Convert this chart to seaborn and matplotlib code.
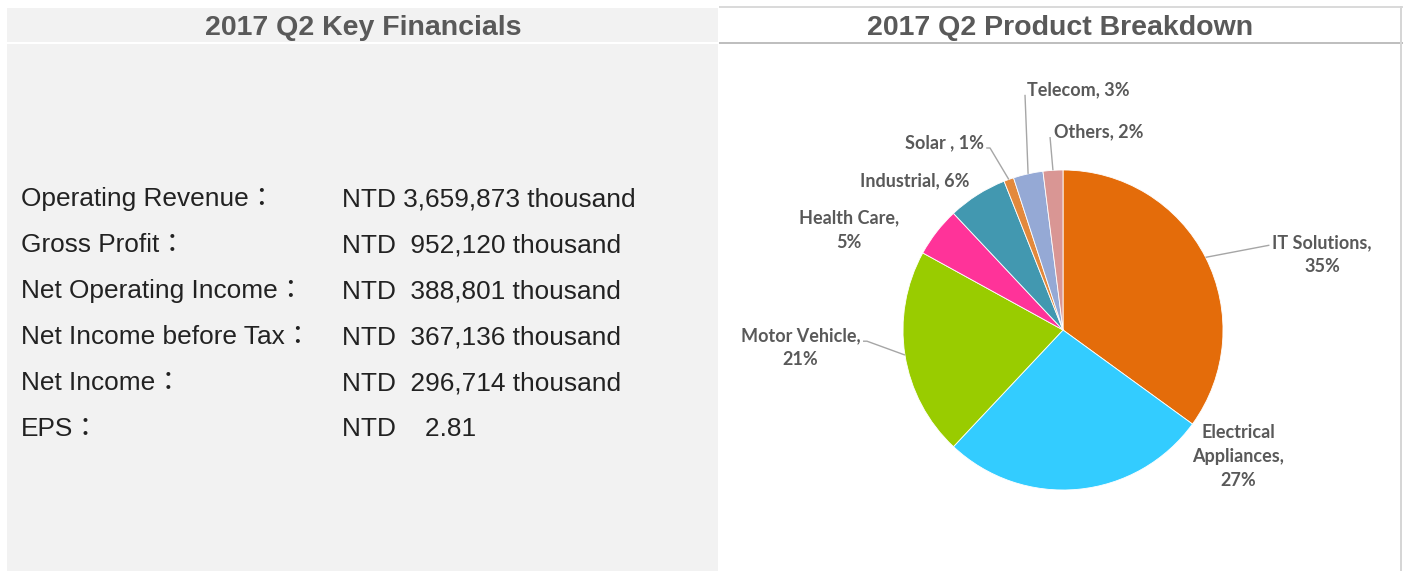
import matplotlib
matplotlib.use("Agg")
import numpy as np
import matplotlib.pyplot as plt
import seaborn as sns
from matplotlib.patches import Rectangle

# --- data -------------------------------------------------------------
fin_items = ["Operating Revenue：", "Gross Profit：", "Net Operating Income：",
             "Net Income before Tax：", "Net Income：", "EPS："]
fin_values = ["NTD 3,659,873 thousand", "NTD  952,120 thousand",
              "NTD  388,801 thousand", "NTD  367,136 thousand",
              "NTD  296,714 thousand", "NTD    2.81"]

# product mix, clockwise from 12 o'clock
products = ["IT Solutions", "Electrical Appliances", "Motor Vehicle", "Health Care",
            "Industrial", "Solar ", "Telecom", "Others"]
shares = [35, 27, 21, 5, 6, 1, 3, 2]
pie_colors = ["#E46C0A", "#33CCFF", "#99CC00", "#FF3399",
              "#4298B0", "#E3893C", "#95A9D5", "#D99694"]

# --- layout (pixels / pie radius units) -------------------------------
W, H = 1405, 571
PIE_C = (1063, 330)
PIE_R = 160

# label text position, alignment, line break style, leader elbow points
label_layout = [
    dict(xy=(1.62, 0.47), ha="center", wrap="name_br", elbow=[(1.29, 0.53)]),
    dict(xy=(1.095, -0.79), ha="center", wrap="words_br", elbow=None),
    dict(xy=(-1.64, -0.11), ha="center", wrap="name_br", elbow=[(-1.225, -0.07), (-1.25, -0.07)]),
    dict(xy=(-1.34, 0.625), ha="center", wrap="name_br", elbow=None),
    dict(xy=(-0.925, 0.93), ha="center", wrap="inline", elbow=None),
    dict(xy=(-0.74, 1.17), ha="center", wrap="inline", elbow=[(-0.456, 1.1375), (-0.48, 1.1375)]),
    dict(xy=(-0.225, 1.50), ha="left", wrap="inline", elbow=[(-0.2375, 1.47)]),
    dict(xy=(-0.056, 1.2375), ha="left", wrap="inline", elbow=[(-0.081, 1.206)]),
]

sns.set_theme(style="white")
plt.rcParams["font.family"] = ["Liberation Sans", "Noto Sans CJK TC", "DejaVu Sans"]

fig = plt.figure(figsize=(W / 100, H / 100), dpi=100)
fig.patch.set_facecolor("white")

# background canvas in pixel coordinates
bg = fig.add_axes([0, 0, 1, 1])
bg.set_xlim(0, W)
bg.set_ylim(H, 0)
bg.set_axis_off()

# left panel
bg.add_patch(Rectangle((7, 8), 711, H - 8, facecolor="#F2F2F2", edgecolor="none"))
bg.add_patch(Rectangle((7, 41.5), 711, 2.5, facecolor="white", edgecolor="none"))
# right panel frame
bg.add_patch(Rectangle((719, 6), 684, 2, facecolor="#DADADA", edgecolor="none"))
bg.add_patch(Rectangle((719, 41.5), 684, 2, facecolor="#BFBFBF", edgecolor="none"))
bg.add_patch(Rectangle((1400, 6), 2, H - 6, facecolor="#D6D6D6", edgecolor="none"))

title_kw = dict(fontsize=20.5, fontweight="bold", color="#595959", ha="center", va="baseline")
bg.text(363, 35, "2017 Q2 Key Financials", **title_kw)
bg.text(1060, 35, "2017 Q2 Product Breakdown", **title_kw)

# key financials table
row_kw = dict(fontsize=18.9, color="#222222", va="baseline")
for i, (item, val) in enumerate(zip(fin_items, fin_values)):
    y = 206 + 46 * i
    bg.text(21, y, item, ha="left", **row_kw)
    bg.text(342, y, val, ha="left", **row_kw)

# --- pie ----------------------------------------------------------------
span = 2.5
side = PIE_R * span
ax = fig.add_axes([(PIE_C[0] - side / 2) / W, 1 - (PIE_C[1] + side / 2) / H,
                   side / W, side / H])
ax.set_xlim(-span / 2, span / 2)
ax.set_ylim(-span / 2, span / 2)
ax.set_axis_off()

wedges, _ = ax.pie(shares, colors=sns.color_palette(pie_colors), startangle=90,
                   counterclock=False, radius=1,
                   wedgeprops=dict(edgecolor="white", linewidth=0.6))

lab_kw = dict(fontsize=13, fontweight="bold", color="#595959",
              family=["Lato", "DejaVu Sans"], linespacing=1.5)
for w, name, pct, lay in zip(wedges, products, shares, label_layout):
    if lay["wrap"] == "name_br":
        txt = f"{name},\n{pct}%"
    elif lay["wrap"] == "words_br":
        txt = name.replace(" ", "\n") + f",\n{pct}%"
    else:
        txt = f"{name}, {pct}%"
    ax.text(lay["xy"][0], lay["xy"][1], txt, ha=lay["ha"], va="center",
            multialignment="center", **lab_kw)
    if lay["elbow"]:
        mid = np.deg2rad((w.theta1 + w.theta2) / 2)
        pts = [(np.cos(mid), np.sin(mid))] + lay["elbow"]
        xs, ys = zip(*pts)
        ax.plot(xs, ys, color="#A6A6A6", lw=1.0, solid_capstyle="butt", clip_on=False)

fig.savefig("out.png", dpi=100, facecolor="white")
